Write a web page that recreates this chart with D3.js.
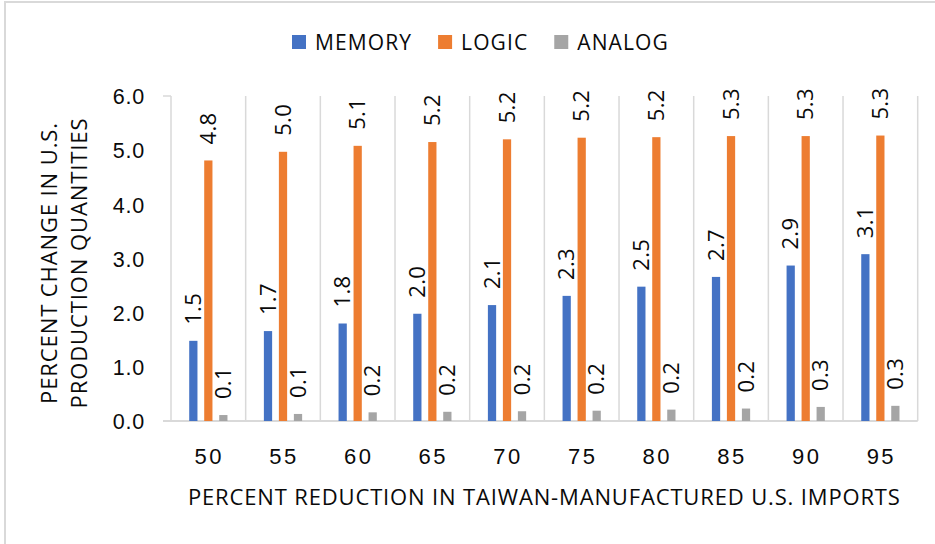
<!DOCTYPE html>
<html>
<head>
<meta charset="utf-8">
<script src="https://cdn.jsdelivr.net/npm/d3@7"></script>
<style>
  html, body { margin: 0; padding: 0; background: #fff; }
  svg { display: block; font-family: "Open Sans", "Noto Sans", sans-serif; }
</style>
</head>
<body>
<svg id="chart" width="935" height="544"></svg>
<script>
// Percent reduction in Taiwan-manufactured U.S. imports (category axis)
const categories = ["50", "55", "60", "65", "70", "75", "80", "85", "90", "95"];
// Percent change in U.S. production quantities, by chip type
const memory = [1.48, 1.66, 1.80, 1.98, 2.14, 2.31, 2.48, 2.66, 2.87, 3.08];
const logic  = [4.81, 4.97, 5.08, 5.15, 5.20, 5.23, 5.24, 5.26, 5.26, 5.27];
const analog = [0.11, 0.13, 0.16, 0.17, 0.18, 0.19, 0.21, 0.23, 0.26, 0.28];
const seriesNames = ["MEMORY", "LOGIC", "ANALOG"];
const seriesColors = ["#4472C4", "#ED7D31", "#A5A5A5"];
const yTicks = [0, 1, 2, 3, 4, 5, 6];
const xTitle = "PERCENT REDUCTION IN TAIWAN-MANUFACTURED U.S. IMPORTS";
const yTitle = ["PERCENT CHANGE IN U.S.", "PRODUCTION QUANTITIES"];

const seriesValues = [memory, logic, analog];
const rows = categories.map((c, i) => ({
  cat: c,
  vals: seriesNames.map((s, j) => ({ series: s, color: seriesColors[j], value: seriesValues[j][i] }))
}));

const svg = d3.select("#chart");
const grid = "#d9d9d9";
const ink = "#0a0a0a";

// chart frame
svg.append("rect")
  .attr("x", 5).attr("y", 2).attr("width", 950).attr("height", 560)
  .attr("fill", "none").attr("stroke", grid).attr("stroke-width", 2);

const plot = { left: 171, right: 917.7, top: 96, bottom: 421 };

const x0 = d3.scaleBand().domain(categories).range([plot.left, plot.right]).padding(0);
const x1 = d3.scaleBand().domain(seriesNames).range([-22.5, 22.5])
  .paddingInner(0.45).paddingOuter(0.225);
const y = d3.scaleLinear().domain([0, 6]).range([plot.bottom, plot.top]);

// vertical separators between categories
const bounds = categories.map(c => x0(c)).concat([plot.right]);
svg.append("g").selectAll("line").data(bounds).join("line")
  .attr("x1", d => d).attr("x2", d => d)
  .attr("y1", plot.top).attr("y2", plot.bottom)
  .attr("stroke", grid).attr("stroke-width", 1.5);

// top tick and horizontal axis line
svg.append("line")
  .attr("x1", plot.left - 8).attr("x2", plot.left)
  .attr("y1", y(6)).attr("y2", y(6))
  .attr("stroke", grid).attr("stroke-width", 1.5);
svg.append("line")
  .attr("x1", plot.left - 8).attr("x2", plot.right)
  .attr("y1", y(0)).attr("y2", y(0))
  .attr("stroke", grid).attr("stroke-width", 2);

// y-axis labels
const yAxis = d3.axisLeft(y).tickValues(yTicks).tickFormat(d3.format(".1f")).tickSize(0).tickPadding(0);
const gy = svg.append("g").attr("transform", `translate(145,0)`).call(yAxis);
gy.select(".domain").remove();
gy.selectAll("text")
  .attr("font-size", 21.5).attr("fill", ink).attr("font-family", null)
  .attr("dy", "0.36em").attr("letter-spacing", 0.8);

// x-axis labels
const xAxis = d3.axisBottom(x0).tickSize(0).tickPadding(0);
const gx = svg.append("g").attr("transform", `translate(0,${plot.bottom})`).call(xAxis);
gx.select(".domain").remove();
gx.selectAll("text")
  .attr("font-size", 22).attr("fill", ink).attr("font-family", null)
  .attr("y", 43).attr("dy", 0).attr("dx", 1).attr("letter-spacing", 2.5);

// bars
const groups = svg.append("g").selectAll("g").data(rows).join("g")
  .attr("transform", d => `translate(${x0(d.cat) + x0.bandwidth() / 2},0)`);

groups.selectAll("rect").data(d => d.vals).join("rect")
  .attr("x", d => x1(d.series))
  .attr("width", x1.bandwidth())
  .attr("y", d => y(d.value))
  .attr("height", d => y(0) - y(d.value))
  .attr("fill", d => d.color);

// rotated value labels above each bar
groups.selectAll("text").data(d => d.vals).join("text")
  .attr("transform", d => `translate(${x1(d.series) + x1.bandwidth() / 2 + 7.8},${y(d.value) - 16}) rotate(-90)`)
  .attr("text-anchor", "start")
  .attr("font-size", 22)
  .attr("letter-spacing", 0.3)
  .attr("fill", ink)
  .text(d => d3.format(".1f")(d.value));

// legend
const legend = svg.append("g").attr("transform", "translate(292,35)");
let lx = 0;
seriesNames.forEach((name, i) => {
  const item = legend.append("g").attr("transform", `translate(${lx},0)`);
  item.append("rect").attr("width", 14).attr("height", 14).attr("fill", seriesColors[i]);
  const t = item.append("text").attr("x", 23).attr("y", 14.5)
    .attr("font-size", 21).attr("fill", ink).attr("letter-spacing", 1.1).text(name);
  lx += 23 + t.node().getComputedTextLength() + 26;
});

// axis titles
svg.append("text")
  .attr("x", (plot.left + plot.right) / 2).attr("y", 505)
  .attr("text-anchor", "middle").attr("font-size", 22).attr("fill", ink)
  .attr("letter-spacing", 0.85)
  .text(xTitle);

const yt = svg.append("g").attr("transform", "translate(0,263) rotate(-90)");
yTitle.forEach((line, i) => {
  yt.append("text")
    .attr("x", 0).attr("y", 56.5 + i * 30.6)
    .attr("text-anchor", "middle").attr("font-size", 22).attr("fill", ink)
    .attr("letter-spacing", 0.9)
    .text(line);
});
</script>
</body>
</html>
